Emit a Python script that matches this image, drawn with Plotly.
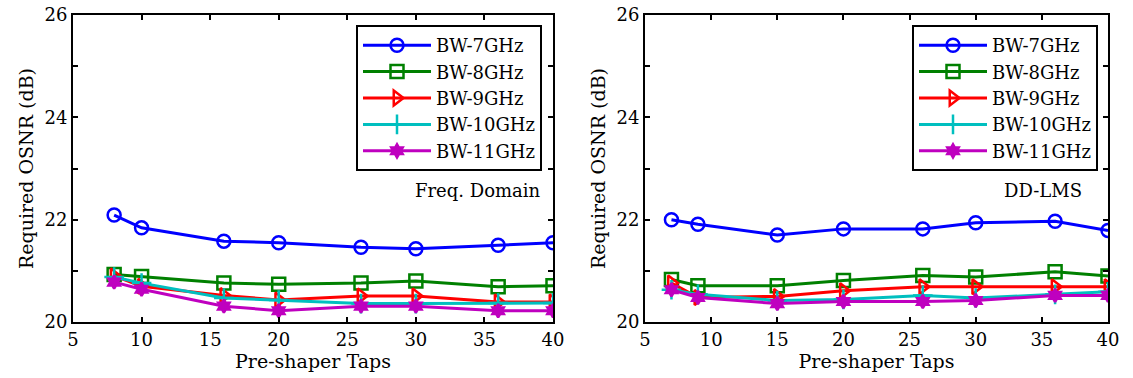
import plotly.graph_objects as go

# ---- data ----
series_names = ["BW-7GHz", "BW-8GHz", "BW-9GHz", "BW-10GHz", "BW-11GHz"]

taps_freq = [8, 10, 16, 20, 26, 30, 36, 40]
freq_bw7 = [22.09, 21.84, 21.58, 21.55, 21.46, 21.43, 21.50, 21.55]
freq_bw8 = [20.93, 20.89, 20.76, 20.74, 20.76, 20.80, 20.69, 20.71]
freq_bw9 = [20.90, 20.70, 20.52, 20.43, 20.51, 20.51, 20.39, 20.39]
freq_bw10 = [20.88, 20.76, 20.47, 20.43, 20.36, 20.36, 20.37, 20.37]
freq_bw11 = [20.78, 20.64, 20.31, 20.22, 20.31, 20.31, 20.22, 20.22]

taps_lms = [7, 9, 15, 20, 26, 30, 36, 40]
lms_bw7 = [22.00, 21.91, 21.70, 21.82, 21.82, 21.94, 21.97, 21.79]
lms_bw8 = [20.83, 20.71, 20.71, 20.81, 20.91, 20.88, 20.98, 20.90]
lms_bw9 = [20.76, 20.48, 20.50, 20.61, 20.69, 20.69, 20.69, 20.69]
lms_bw10 = [20.63, 20.54, 20.42, 20.44, 20.52, 20.47, 20.54, 20.59]
lms_bw11 = [20.63, 20.48, 20.36, 20.40, 20.40, 20.42, 20.52, 20.52]

x_ticks = [5, 10, 15, 20, 25, 30, 35, 40]
y_ticks = [20, 21, 22, 23, 24, 25, 26]
y_ticktext = ["20", "", "22", "", "24", "", "26"]

colors = ["#0000FF", "#008000", "#FF0000", "#00BFBF", "#BF00BF"]
symbols = ["circle-open", "square-open", "triangle-right-open", "cross-thin-open", "hexagram"]
msizes = [13, 13, 13, 14, 10]

FONT = "DejaVu Serif"

fig = go.Figure()

freq_data = [freq_bw7, freq_bw8, freq_bw9, freq_bw10, freq_bw11]
lms_data = [lms_bw7, lms_bw8, lms_bw9, lms_bw10, lms_bw11]

for i, name in enumerate(series_names):
    fig.add_trace(go.Scatter(
        x=taps_freq, y=freq_data[i], name=name, mode="lines+markers",
        line=dict(color=colors[i], width=3),
        marker=dict(symbol=symbols[i], size=msizes[i], color=colors[i],
                    line=dict(color=colors[i], width=2.5)),
        xaxis="x", yaxis="y", legend="legend"))
for i, name in enumerate(series_names):
    fig.add_trace(go.Scatter(
        x=taps_lms, y=lms_data[i], name=name, mode="lines+markers",
        line=dict(color=colors[i], width=3),
        marker=dict(symbol=symbols[i], size=msizes[i], color=colors[i],
                    line=dict(color=colors[i], width=2.5)),
        xaxis="x2", yaxis="y2", legend="legend2"))

W, H = 1133, 378
ml, mt = 73, 15
mr = W - 1108
mb = H - 322
pw = W - ml - mr
ph = H - mt - mb

def fx(px):
    return (px - ml) / pw

def fy(py):
    return 1 - (py - mt) / ph

axis_common = dict(
    showline=True, linecolor="black", linewidth=2, mirror="ticks",
    ticks="inside", ticklen=5, tickwidth=1.5, tickcolor="black",
    showgrid=False, zeroline=False, automargin=False,
    ticklabeloverflow="allow",
    tickfont=dict(family=FONT, size=18, color="black"),
)

xcommon = dict(axis_common, range=[5, 40], tickvals=x_ticks,
               title=dict(text="Pre-shaper Taps", font=dict(family=FONT, size=19, color="black"), standoff=2))
ycommon = dict(axis_common, range=[20, 26], tickvals=y_ticks, ticktext=y_ticktext,
               title=dict(text="Required OSNR (dB)", font=dict(family=FONT, size=19, color="black"), standoff=6))

legend_common = dict(
    bgcolor="white", bordercolor="black", borderwidth=2,
    font=dict(family=FONT, size=18, color="black"),
    yanchor="top", xanchor="right", tracegroupgap=0, itemwidth=68,
)

fig.update_layout(
    width=W, height=H,
    margin=dict(l=ml, r=mr, t=mt, b=mb, autoexpand=False),
    plot_bgcolor="white", paper_bgcolor="white",
    xaxis=dict(xcommon, domain=[0, fx(553)], anchor="y"),
    yaxis=dict(ycommon, domain=[0, 1], anchor="x"),
    xaxis2=dict(xcommon, domain=[fx(645), 1], anchor="y2"),
    yaxis2=dict(ycommon, domain=[0, 1], anchor="x2"),
    legend=dict(legend_common, x=fx(542), y=fy(25)),
    legend2=dict(legend_common, x=fx(1098), y=fy(25)),
    annotations=[
        dict(text="Freq. Domain", x=fx(543), y=fy(190), xref="paper", yref="paper",
             xanchor="right", yanchor="middle", showarrow=False,
             font=dict(family=FONT, size=18, color="black")),
        dict(text="DD-LMS", x=fx(1043), y=fy(190), xref="paper", yref="paper",
             xanchor="center", yanchor="middle", showarrow=False,
             font=dict(family=FONT, size=18, color="black")),
    ],
)

fig.write_html("out.html",
               config={"displayModeBar": False},
               post_script="document.body.style.margin='0';document.body.style.overflow='hidden';")
